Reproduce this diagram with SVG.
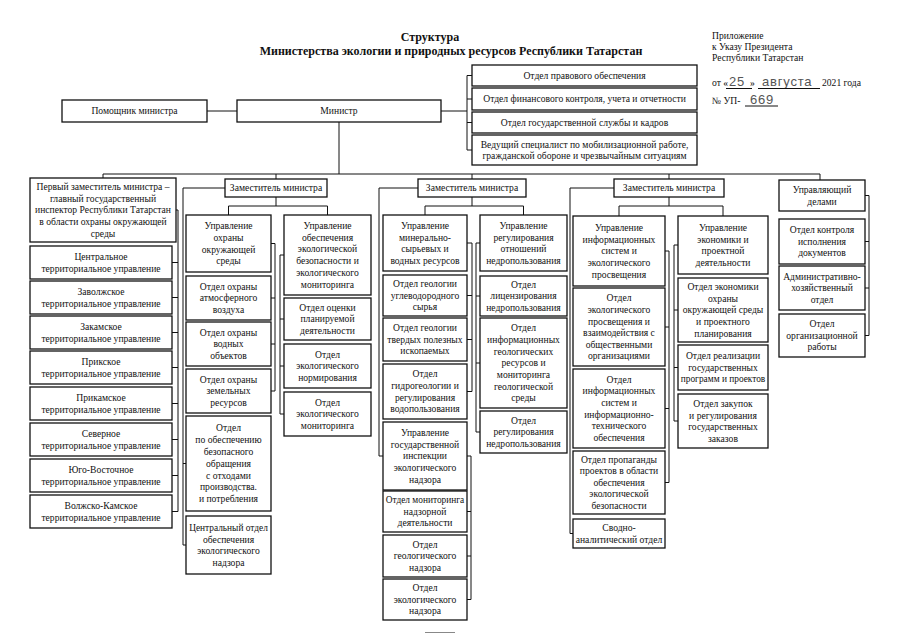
<svg xmlns="http://www.w3.org/2000/svg" width="905" height="640" viewBox="0 0 905 640">
<style>
.b{fill:#fff;stroke:#111;stroke-width:1.3}
.t{font-family:"Liberation Serif","Times New Roman",serif;font-size:9.6px;fill:#111;text-anchor:middle}
.s{font-size:9.35px}
.h{font-family:"Liberation Serif","Times New Roman",serif;font-size:12px;font-weight:bold;fill:#111;text-anchor:middle}
.a{font-family:"Liberation Serif","Times New Roman",serif;font-size:9.6px;fill:#111}
.w{font-family:"Liberation Sans",Arial,sans-serif;font-size:13px;fill:#555;letter-spacing:0.8px}
.c{fill:none;stroke:#111;stroke-width:1}
</style>
<rect width="905" height="640" fill="#fff"/>
<g id="title">
<text class="h" x="430" y="41">Структура</text>
<text class="h" x="451" y="55">Министерства экологии и природных ресурсов Республики Татарстан</text>
</g>
<g id="appendix">
<text class="a" x="712" y="39">Приложение</text>
<text class="a" x="712" y="50">к Указу Президента</text>
<text class="a" x="712" y="61">Республики Татарстан</text>
<text class="a" x="712" y="86">от «</text>
<text class="w" x="729" y="86">25</text>
<text class="a" x="750" y="86">»</text>
<text class="w" x="762" y="86">августа</text>
<text class="a" x="822" y="86">2021 года</text>
<text class="a" x="712" y="104">№ УП-</text>
<text class="w" x="750" y="104">669</text>
<path class="c" d="M726,88.5 H752 M758,88.5 H820 M745,106 H778" stroke-width="0.8"/>
</g>
<g id="connectors">
<path class="c" d="M207,111 H237 M441,111 H467 M467,75.5 V150 M467,75.5 H472 M467,99 H472 M467,122.5 H472 M467,150 H472"/>
<path class="c" d="M339,122 V174 M103,174 H820 M103,174 V178 M276,174 V179 M472,174 V179 M669,174 V179 M820,174 V180"/>
<path class="c" d="M176,210 H178 V511.5 M172,262.5 H178 M172,297.5 H178 M172,332.5 H178 M172,367.5 H178 M172,403.5 H178 M172,439.5 H178 M172,475.5 H178 M172,511.5 H178"/>
<path class="c" d="M276,197 V206 M228.5,206 H327.5 M228.5,206 V215 M327.5,206 V215"/>
<path class="c" d="M271,243.5 H275 V391 M271,298 H275 M271,344 H275 M271,391 H275"/>
<path class="c" d="M284,255 H280 V414 M280,319 H284 M280,366 H284 M280,414 H284"/>
<path class="c" d="M225,188 H183 V545 H186 M183,463.5 H186"/>
<path class="c" d="M472,197 V206 M425,206 H523.5 M425,206 V215 M523.5,206 V215"/>
<path class="c" d="M467,243 H472 V391.5 M467,295.5 H472 M467,339.5 H472 M467,391.5 H472"/>
<path class="c" d="M467,456 H471 V599.5 M467,511.5 H471 M467,556 H471 M467,599.5 H471"/>
<path class="c" d="M480,243 H476 V432 M476,296 H480 M476,363 H480 M476,432 H480"/>
<path class="c" d="M418,188 H379 V456 H383"/>
<path class="c" d="M669,197 V206 M619,206 H723 M619,206 V216 M723,206 V216"/>
<path class="c" d="M665,251 H669 V482.5 M665,327 H669 M665,408.5 H669 M665,482.5 H669"/>
<path class="c" d="M678,245 H674 V421 M674,310 H678 M674,367.5 H678 M674,421 H678"/>
<path class="c" d="M614,188 H570 V533.5 H573"/>
<path class="c" d="M865,195.5 H869 V335.5 M865,241.5 H869 M865,288 H869 M865,335.5 H869"/>
</g>
<g id="pom"><rect class="b" x="62" y="100" width="145" height="22"/><text class="t" x="134.5" y="114.3">Помощник министра</text></g>
<g id="minister"><rect class="b" x="237" y="100" width="204" height="22"/><text class="t" x="339" y="114.3">Министр</text></g>
<g id="legal"><rect class="b" x="472" y="65" width="225" height="21"/><text class="t" x="584.5" y="78.8">Отдел правового обеспечения</text></g>
<g id="finance"><rect class="b" x="472" y="88" width="225" height="22"/><text class="t" x="584.5" y="102.3">Отдел финансового контроля, учета и отчетности</text></g>
<g id="hr"><rect class="b" x="472" y="112" width="225" height="21"/><text class="t" x="584.5" y="125.8">Отдел государственной службы и кадров</text></g>
<g id="mob"><rect class="b" x="472" y="135" width="225" height="30"/><text class="t" x="584.5" y="147.5">Ведущий специалист по мобилизационной работе,</text><text class="t" x="584.5" y="159.1">гражданской обороне и чрезвычайным ситуациям</text></g>

<g id="first-deputy"><rect class="b" x="30" y="178" width="146" height="64"/>
<text class="t" x="103" y="190.1">Первый заместитель министра –</text>
<text class="t" x="103" y="201.7">главный государственный</text>
<text class="t" x="103" y="213.3">инспектор Республики Татарстан</text>
<text class="t" x="103" y="224.9">в области охраны окружающей</text>
<text class="t" x="103" y="236.5">среды</text></g>
<g id="tu1"><rect class="b" x="30" y="246" width="142" height="33"/><text class="t" x="101" y="260">Центральное</text><text class="t" x="101" y="271.6">территориальное управление</text></g>
<g id="tu2"><rect class="b" x="30" y="281" width="142" height="33"/><text class="t" x="101" y="295">Заволжское</text><text class="t" x="101" y="306.6">территориальное управление</text></g>
<g id="tu3"><rect class="b" x="30" y="316" width="142" height="33"/><text class="t" x="101" y="330">Закамское</text><text class="t" x="101" y="341.6">территориальное управление</text></g>
<g id="tu4"><rect class="b" x="30" y="351" width="142" height="33"/><text class="t" x="101" y="365">Прикское</text><text class="t" x="101" y="376.6">территориальное управление</text></g>
<g id="tu5"><rect class="b" x="30" y="387" width="142" height="33"/><text class="t" x="101" y="401">Прикамское</text><text class="t" x="101" y="412.6">территориальное управление</text></g>
<g id="tu6"><rect class="b" x="30" y="423" width="142" height="33"/><text class="t" x="101" y="437">Северное</text><text class="t" x="101" y="448.6">территориальное управление</text></g>
<g id="tu7"><rect class="b" x="30" y="459" width="142" height="33"/><text class="t" x="101" y="473">Юго-Восточное</text><text class="t" x="101" y="484.6">территориальное управление</text></g>
<g id="tu8"><rect class="b" x="30" y="495" width="142" height="33"/><text class="t" x="101" y="509">Волжско-Камское</text><text class="t" x="101" y="520.6">территориальное управление</text></g>

<g id="deputy1"><rect class="b" x="225" y="179" width="102" height="18"/><text class="t" x="276" y="191.3">Заместитель министра</text></g>
<g id="u-env"><rect class="b" x="186" y="215" width="85" height="57"/>
<text class="t" x="228.5" y="229.4">Управление</text><text class="t" x="228.5" y="241">охраны</text><text class="t" x="228.5" y="252.6">окружающей</text><text class="t" x="228.5" y="264.2">среды</text></g>
<g id="o-air"><rect class="b" x="186" y="276" width="85" height="44"/>
<text class="t" x="228.5" y="289.7">Отдел охраны</text><text class="t" x="228.5" y="301.3">атмосферного</text><text class="t" x="228.5" y="312.9">воздуха</text></g>
<g id="o-water"><rect class="b" x="186" y="322" width="85" height="44"/>
<text class="t" x="228.5" y="335.7">Отдел охраны</text><text class="t" x="228.5" y="347.3">водных</text><text class="t" x="228.5" y="358.9">объектов</text></g>
<g id="o-land"><rect class="b" x="186" y="369" width="85" height="44"/>
<text class="t" x="228.5" y="382.7">Отдел охраны</text><text class="t" x="228.5" y="394.3">земельных</text><text class="t" x="228.5" y="405.9">ресурсов</text></g>
<g id="o-waste"><rect class="b" x="186" y="416" width="85" height="95"/>
<text class="t" x="228.5" y="431.4">Отдел</text><text class="t" x="228.5" y="443.2">по обеспечению</text><text class="t" x="228.5" y="455">безопасного</text><text class="t" x="228.5" y="466.8">обращения</text><text class="t" x="228.5" y="478.6">с отходами</text><text class="t" x="228.5" y="490.4">производства.</text><text class="t" x="228.5" y="502.2">и потребления</text></g>
<g id="o-central"><rect class="b" x="186" y="516" width="85" height="58"/>
<text class="t s" x="228.5" y="530.9">Центральный отдел</text><text class="t" x="228.5" y="542.5">обеспечения</text><text class="t" x="228.5" y="554.1">экологического</text><text class="t" x="228.5" y="565.7">надзора</text></g>
<g id="u-safety"><rect class="b" x="284" y="215" width="87" height="80"/>
<text class="t" x="327.5" y="228.8">Управление</text><text class="t" x="327.5" y="240.6">обеспечения</text><text class="t" x="327.5" y="252.4">экологической</text><text class="t" x="327.5" y="264.2">безопасности и</text><text class="t" x="327.5" y="276">экологического</text><text class="t" x="327.5" y="287.8">мониторинга</text></g>
<g id="o-assess"><rect class="b" x="284" y="298" width="87" height="42"/>
<text class="t" x="327.5" y="310.7">Отдел оценки</text><text class="t" x="327.5" y="322.3">планируемой</text><text class="t" x="327.5" y="333.9">деятельности</text></g>
<g id="o-norm"><rect class="b" x="284" y="344" width="87" height="44"/>
<text class="t" x="327.5" y="357.7">Отдел</text><text class="t" x="327.5" y="369.3">экологического</text><text class="t" x="327.5" y="380.9">нормирования</text></g>
<g id="o-monitor"><rect class="b" x="284" y="392" width="87" height="44"/>
<text class="t" x="327.5" y="405.7">Отдел</text><text class="t" x="327.5" y="417.3">экологического</text><text class="t" x="327.5" y="428.9">мониторинга</text></g>

<g id="deputy2"><rect class="b" x="418" y="179" width="108" height="18"/><text class="t" x="472" y="191.3">Заместитель министра</text></g>
<g id="u-mineral"><rect class="b" x="383" y="215" width="84" height="56"/>
<text class="t" x="425" y="228.9">Управление</text><text class="t" x="425" y="240.5">минерально-</text><text class="t" x="425" y="252.1">сырьевых и</text><text class="t" x="425" y="263.7">водных ресурсов</text></g>
<g id="o-hydrocarbon"><rect class="b" x="383" y="275" width="84" height="41"/>
<text class="t" x="425" y="287.2">Отдел геологии</text><text class="t" x="425" y="298.8">углеводородного</text><text class="t" x="425" y="310.4">сырья</text></g>
<g id="o-solid"><rect class="b" x="383" y="318" width="84" height="43"/>
<text class="t" x="425" y="331.2">Отдел геологии</text><text class="t" x="425" y="342.8">твердых полезных</text><text class="t" x="425" y="354.4">ископаемых</text></g>
<g id="o-hydro"><rect class="b" x="383" y="364" width="84" height="55"/>
<text class="t" x="425" y="377.4">Отдел</text><text class="t" x="425" y="389">гидрогеологии и</text><text class="t" x="425" y="400.6">регулирования</text><text class="t" x="425" y="412.2">водопользования</text></g>
<g id="u-inspect"><rect class="b" x="383" y="422" width="84" height="68"/>
<text class="t" x="425" y="436.1">Управление</text><text class="t" x="425" y="447.7">государственной</text><text class="t" x="425" y="459.3">инспекции</text><text class="t" x="425" y="470.9">экологического</text><text class="t" x="425" y="482.5">надзора</text></g>
<g id="o-supmon"><rect class="b" x="383" y="491" width="84" height="41"/>
<text class="t s" x="425" y="503.2">Отдел мониторинга</text><text class="t" x="425" y="514.8">надзорной</text><text class="t" x="425" y="526.4">деятельности</text></g>
<g id="o-geosup"><rect class="b" x="383" y="535" width="84" height="42"/>
<text class="t" x="425" y="547.7">Отдел</text><text class="t" x="425" y="559.3">геологического</text><text class="t" x="425" y="570.9">надзора</text></g>
<g id="o-ecosup"><rect class="b" x="383" y="579" width="84" height="41"/>
<text class="t" x="425" y="591.2">Отдел</text><text class="t" x="425" y="602.8">экологического</text><text class="t" x="425" y="614.4">надзора</text></g>
<g id="u-subsoil"><rect class="b" x="480" y="215" width="87" height="56"/>
<text class="t" x="523.5" y="228.9">Управление</text><text class="t" x="523.5" y="240.5">регулирования</text><text class="t" x="523.5" y="252.1">отношений</text><text class="t" x="523.5" y="263.7">недропользования</text></g>
<g id="o-license"><rect class="b" x="480" y="276" width="87" height="40"/>
<text class="t" x="523.5" y="287.7">Отдел</text><text class="t" x="523.5" y="299.3">лицензирования</text><text class="t" x="523.5" y="310.9">недропользования</text></g>
<g id="o-geoinfo"><rect class="b" x="480" y="318" width="87" height="90"/>
<text class="t" x="523.5" y="331.2">Отдел</text><text class="t" x="523.5" y="342.9">информационных</text><text class="t" x="523.5" y="354.6">геологических</text><text class="t" x="523.5" y="366.3">ресурсов и</text><text class="t" x="523.5" y="378">мониторинга</text><text class="t" x="523.5" y="389.7">геологической</text><text class="t" x="523.5" y="401.4">среды</text></g>
<g id="o-subreg"><rect class="b" x="480" y="411" width="87" height="42"/>
<text class="t" x="523.5" y="423.7">Отдел</text><text class="t" x="523.5" y="435.3">регулирования</text><text class="t" x="523.5" y="446.9">недропользования</text></g>

<g id="deputy3"><rect class="b" x="614" y="179" width="110" height="18"/><text class="t" x="669" y="191.3">Заместитель министра</text></g>
<g id="u-info"><rect class="b" x="573" y="216" width="92" height="70"/>
<text class="t" x="619" y="231.1">Управление</text><text class="t" x="619" y="242.7">информационных</text><text class="t" x="619" y="254.3">систем и</text><text class="t" x="619" y="265.9">экологического</text><text class="t" x="619" y="277.5">просвещения</text></g>
<g id="o-edu"><rect class="b" x="573" y="288" width="92" height="78"/>
<text class="t" x="619" y="301.3">Отдел</text><text class="t" x="619" y="312.9">экологического</text><text class="t" x="619" y="324.5">просвещения и</text><text class="t" x="619" y="336.1">взаимодействия с</text><text class="t" x="619" y="347.7">общественными</text><text class="t" x="619" y="359.3">организациями</text></g>
<g id="o-it"><rect class="b" x="573" y="369" width="92" height="79"/>
<text class="t" x="619" y="382.8">Отдел</text><text class="t" x="619" y="394.4">информационных</text><text class="t" x="619" y="406">систем и</text><text class="t" x="619" y="417.6">информационно-</text><text class="t" x="619" y="429.2">технического</text><text class="t" x="619" y="440.8">обеспечения</text></g>
<g id="o-promo"><rect class="b" x="573" y="451" width="92" height="63"/>
<text class="t" x="619" y="462.6">Отдел пропаганды</text><text class="t" x="619" y="474.2">проектов в области</text><text class="t" x="619" y="485.8">обеспечения</text><text class="t" x="619" y="497.4">экологической</text><text class="t" x="619" y="509">безопасности</text></g>
<g id="o-analytic"><rect class="b" x="573" y="519" width="92" height="29"/>
<text class="t" x="619" y="531">Сводно-</text><text class="t" x="619" y="542.6">аналитический отдел</text></g>
<g id="u-econ"><rect class="b" x="678" y="216" width="90" height="58"/>
<text class="t" x="723" y="230.9">Управление</text><text class="t" x="723" y="242.5">экономики и</text><text class="t" x="723" y="254.1">проектной</text><text class="t" x="723" y="265.7">деятельности</text></g>
<g id="o-econ"><rect class="b" x="678" y="278" width="90" height="64"/>
<text class="t" x="723" y="290.1">Отдел экономики</text><text class="t" x="723" y="301.7">охраны</text><text class="t" x="723" y="313.3">окружающей среды</text><text class="t" x="723" y="324.9">и проектного</text><text class="t" x="723" y="336.5">планирования</text></g>
<g id="o-programs"><rect class="b" x="678" y="345" width="90" height="45"/>
<text class="t" x="723" y="359.2">Отдел реализации</text><text class="t" x="723" y="370.8">государственных</text><text class="t s" x="723" y="382.4">программ и проектов</text></g>
<g id="o-procure"><rect class="b" x="678" y="394" width="90" height="54"/>
<text class="t" x="723" y="406.9">Отдел закупок</text><text class="t" x="723" y="418.5">и регулирования</text><text class="t" x="723" y="430.1">государственных</text><text class="t" x="723" y="441.7">заказов</text></g>

<g id="admin-head"><rect class="b" x="779" y="180" width="86" height="31"/>
<text class="t" x="822" y="193">Управляющий</text><text class="t" x="822" y="204.6">делами</text></g>
<g id="o-docs"><rect class="b" x="779" y="219" width="86" height="45"/>
<text class="t" x="822" y="233.2">Отдел контроля</text><text class="t" x="822" y="244.8">исполнения</text><text class="t" x="822" y="256.4">документов</text></g>
<g id="o-admin"><rect class="b" x="779" y="266" width="86" height="44"/>
<text class="t" x="822" y="279.7">Административно-</text><text class="t" x="822" y="291.3">хозяйственный</text><text class="t" x="822" y="302.9">отдел</text></g>
<g id="o-org"><rect class="b" x="779" y="314" width="86" height="43"/>
<text class="t" x="822" y="327.2">Отдел</text><text class="t" x="822" y="338.8">организационной</text><text class="t" x="822" y="350.4">работы</text></g>
<path d="M425,632.5 H455" fill="none" stroke="#555" stroke-width="0.7"/>
</svg>
